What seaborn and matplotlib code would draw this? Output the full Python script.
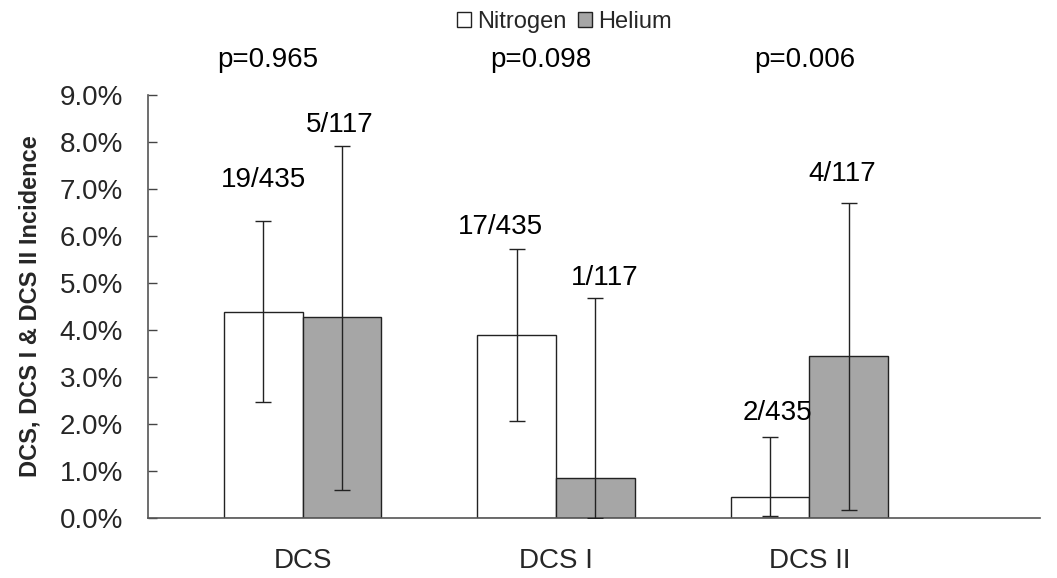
import matplotlib
matplotlib.use("Agg")
import matplotlib.pyplot as plt
import seaborn as sns
import pandas as pd
from matplotlib.patches import Patch
from matplotlib.ticker import FuncFormatter, MultipleLocator

categories = ["DCS", "DCS I", "DCS II"]
gases = ["Nitrogen", "Helium"]
nitrogen = [4.38, 3.89, 0.44]
helium = [4.28, 0.84, 3.44]
nitrogen_low = [2.46, 2.06, 0.05]
nitrogen_high = [6.32, 5.72, 1.72]
helium_low = [0.59, 0.00, 0.16]
helium_high = [7.92, 4.67, 6.70]
nitrogen_labels = ["19/435", "17/435", "2/435"]
helium_labels = ["5/117", "1/117", "4/117"]
p_values = ["p=0.965", "p=0.098", "p=0.006"]

df = pd.DataFrame({
    "cat": categories * 2,
    "gas": [gases[0]] * 3 + [gases[1]] * 3,
    "val": nitrogen + helium,
})

sns.set_style("white")
plt.rcParams["font.family"] = ["Liberation Sans", "DejaVu Sans"]

fig = plt.figure(figsize=(10.57, 5.78), dpi=100)
ax = fig.add_axes([0.140, 0.104, 0.844, 0.732])

palette = {"Nitrogen": "#ffffff", "Helium": "#a6a6a6"}
sns.barplot(data=df, x="cat", y="val", hue="gas", order=categories,
            hue_order=gases, palette=palette, width=0.62, dodge=True,
            edgecolor="#222222", linewidth=1.0, errorbar=None, legend=False, ax=ax)

bars = ax.patches[:6]
centers = [b.get_x() + b.get_width() / 2 for b in bars]
n_x = centers[:3]
h_x = centers[3:6]

ax.errorbar(n_x, nitrogen,
            yerr=[[v - l for v, l in zip(nitrogen, nitrogen_low)],
                  [h - v for v, h in zip(nitrogen, nitrogen_high)]],
            fmt="none", ecolor="#222222", elinewidth=1.0, capsize=6, capthick=1.0, zorder=5)
ax.errorbar(h_x, helium,
            yerr=[[v - l for v, l in zip(helium, helium_low)],
                  [h - v for v, h in zip(helium, helium_high)]],
            fmt="none", ecolor="#222222", elinewidth=1.0, capsize=6, capthick=1.0, zorder=5)

n_off = [(0, 29.5), (-11.5, 16), (5, 17.5)]
h_off = [(-1.5, 15), (7, 15), (-5, 21)]
for x, top, lab, off in zip(n_x, nitrogen_high, nitrogen_labels, n_off):
    ax.annotate(lab, (x, top), xytext=off, textcoords="offset points",
                ha="center", va="center", fontsize=20, color="black")
for x, top, lab, off in zip(h_x, helium_high, helium_labels, h_off):
    ax.annotate(lab, (x, top), xytext=off, textcoords="offset points",
                ha="center", va="center", fontsize=20, color="black")

p_dx = [-25, -11, -3.5]
for i, (p, dx) in enumerate(zip(p_values, p_dx)):
    ax.annotate(p, (i, 9.0), xytext=(dx, 25),
                textcoords="offset points", ha="center", va="center",
                fontsize=20, color="black", annotation_clip=False)

ax.set_xlim(-0.61, 2.91)
ax.set_ylim(0, 9.0)
ax.yaxis.set_major_locator(MultipleLocator(1.0))
ax.yaxis.set_major_formatter(FuncFormatter(lambda v, _: f"{v:.1f}%"))
ax.tick_params(axis="y", direction="in", length=6.5, width=1, color="#444444",
               labelsize=20, pad=18, left=True)
ax.tick_params(axis="x", length=0, labelsize=20, pad=22)
ax.set_xlabel("")
ax.set_ylabel("DCS, DCS I & DCS II Incidence", fontsize=17, fontweight="bold", labelpad=13)

for s in ["top", "right"]:
    ax.spines[s].set_visible(False)
for s in ["left", "bottom"]:
    ax.spines[s].set_color("#555555")
    ax.spines[s].set_linewidth(1.2)

handles = [Patch(facecolor=palette[g], edgecolor="#222222", linewidth=1.0, label=g) for g in gases]
fig.legend(handles=handles, loc="center", bbox_to_anchor=(0.534, 0.962), ncol=2,
           frameon=False, fontsize=17, handlelength=0.6, handleheight=0.6,
           handletextpad=0.25, columnspacing=0.5)

fig.savefig("out.png", dpi=100)
